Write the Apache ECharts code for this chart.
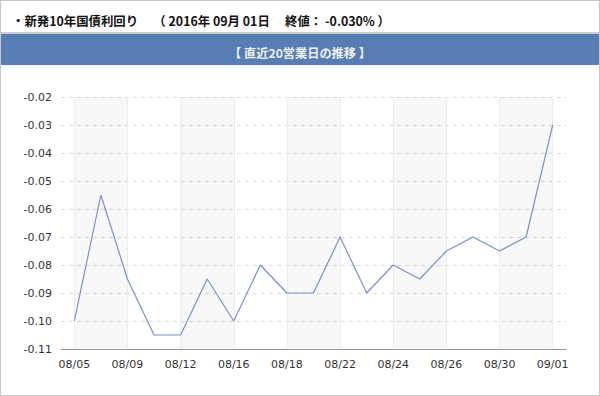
<!DOCTYPE html>
<html><head><meta charset="utf-8">
<script src="https://cdn.jsdelivr.net/npm/echarts@6/dist/echarts.min.js"></script>
<style>
html,body{margin:0;padding:0;background:#fff;}
#c{width:598px;height:394px;border:1px solid #c8c8c8;}
</style></head><body>
<div id="c"></div>
<script>
var titleText = '・新発10年国債利回り\u3000 （ 2016年 09月 01日\u3000 終値： -0.030% ）';
var subTitle = '【 直近20営業日の推移 】';
var dates = ['08/05','08/08','08/09','08/10','08/12','08/15','08/16','08/17','08/18','08/19','08/22','08/23','08/24','08/25','08/26','08/29','08/30','08/31','09/01'];
var yields = [-0.100,-0.055,-0.085,-0.105,-0.105,-0.085,-0.100,-0.080,-0.090,-0.090,-0.070,-0.090,-0.080,-0.085,-0.075,-0.070,-0.075,-0.070,-0.030];
var yMin = -0.11, yMax = -0.02, yStep = 0.01;

var chart = echarts.init(document.getElementById('c'), null, {renderer:'svg'});
chart.setOption({
  animation:false,
  graphic:[
    {type:'rect', shape:{x:0,y:31,width:598,height:2}, style:{fill:'#cfcfcf'}},
    {type:'rect', shape:{x:0,y:33,width:598,height:31}, style:{fill:'#587db4'}}
  ],
  title:[
    {text:titleText, left:6, top:9, textStyle:{fontFamily:'"Noto Sans CJK JP"', fontSize:12.4, fontWeight:'bold', color:'#111'}},
    {text:subTitle, left:'center', top:41, textStyle:{fontFamily:'"Noto Sans CJK JP"', fontSize:12.2, fontWeight:'bold', color:'#eef2fa'}}
  ],
  grid:{left:60, right:33, top:96, bottom:46},
  xAxis:{
    type:'category', data:dates, boundaryGap:true,
    axisLine:{lineStyle:{color:'#999'}},
    axisTick:{alignWithLabel:true, interval:1, length:4, lineStyle:{color:'#999'}},
    axisLabel:{interval:1, color:'#333', fontSize:11, margin:10, fontFamily:'Verdana, "DejaVu Sans", sans-serif'},
    splitLine:{show:true, interval:1, alignWithLabel:true, lineStyle:{color:'#ececec', width:1}},
    splitArea:{show:true, interval:1, alignWithLabel:true, areaStyle:{color:['rgba(0,0,0,0.026)','rgba(0,0,0,0)']}}
  },
  yAxis:{
    type:'value', min:yMin, max:yMax, interval:yStep,
    axisLine:{show:false}, axisTick:{show:false},
    axisLabel:{color:'#333', fontSize:11, margin:9, fontFamily:'Verdana, "DejaVu Sans", sans-serif',
      formatter:function(v){return v.toFixed(2);}},
    splitLine:{lineStyle:{color:'#d8d8d8', type:[4,4], width:1}}
  },
  series:[{type:'line', data:yields, symbol:'none', lineStyle:{color:'#7b8ecf', width:1.2}}]
});
</script>
</body></html>
